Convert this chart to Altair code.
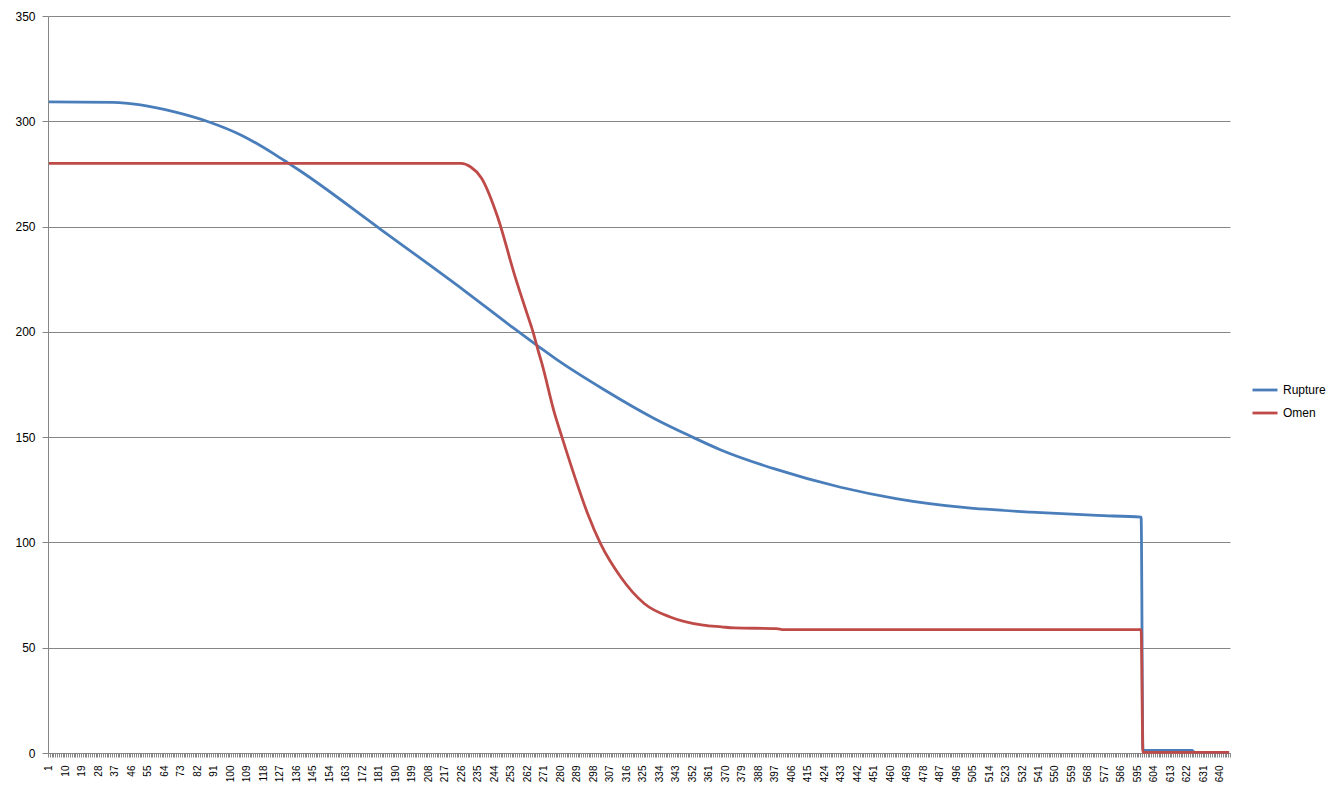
import altair as alt
import pandas as pd

# ---- data ----
series_names = ["Rupture", "Omen"]
series_colors = ["#4A7EBB", "#BE4B48"]

rupture_x = [1, 36, 51, 69, 88, 106, 124, 131, 138, 182, 228, 255, 269, 277, 304, 331,
             351, 368, 397, 433, 464, 500, 537, 573, 597, 598, 625, 626, 645]
rupture_y = [309.2, 309, 307.8, 304.6, 299.8, 293.4, 284.4, 280.5, 276.5, 248.7, 219.4,
             201.5, 192.5, 187.5, 172.5, 159, 150.5, 143.8, 134.9, 126.2, 120.7, 116.6,
             114.4, 112.8, 112, 1.2, 1.2, 0.3, 0.3]

omen_x = [1, 226, 231, 237, 246, 255, 262, 265, 268, 270, 277, 281, 288, 295, 302, 313,
          326, 340, 358, 368, 375, 398, 402, 597, 598, 645]
omen_y = [280, 280, 278.4, 273.1, 254.2, 227.3, 208.4, 200.5, 191, 185, 161, 149.9, 131,
          113.6, 99.4, 83.6, 70.9, 64.6, 60.7, 59.9, 59.4, 59.1, 58.6, 58.6, 0.3, 0.3]

n_categories = 645
x_label_values = list(range(1, n_categories + 1, 9))
y_tick_values = [0, 50, 100, 150, 200, 250, 300, 350]

rows = []
for name, xs, ys in [("Rupture", rupture_x, rupture_y), ("Omen", omen_x, omen_y)]:
    for i, (xv, yv) in enumerate(zip(xs, ys)):
        rows.append({"series": name, "x": xv, "value": yv, "idx": i})
df = pd.DataFrame(rows)

# category boundaries carry the tick marks; labels shown on every 9th category
boundaries = [c - 0.5 for c in range(1, n_categories + 2)]
label_set = ",".join(str(v) for v in x_label_values)
label_expr = f"indexof([{label_set}], datum.value + 0.5) >= 0 ? '' + (datum.value + 0.5) : ''"

W, H = 1182, 737
GRID = "#868686"
FONT = "Liberation Sans"

chart = alt.Chart(df).mark_line(strokeWidth=2.8, interpolate="monotone").encode(
    x=alt.X("x:Q",
            scale=alt.Scale(domain=[0.5, n_categories + 0.5], nice=False, zero=False),
            axis=alt.Axis(values=boundaries, labelExpr=label_expr, labelAngle=-90,
                          labelAlign="right", labelBaseline="middle",
                          labelOffset=0.92, labelOverlap=False, labelBound=False,
                          labelFlush=False, tickSize=4, tickColor=GRID,
                          domainColor=GRID, labelPadding=8, labelFontSize=10,
                          grid=False, title=None)),
    y=alt.Y("value:Q",
            scale=alt.Scale(domain=[0, 350], nice=False, zero=True),
            axis=alt.Axis(values=y_tick_values, grid=True, gridColor=GRID,
                          gridOpacity=1, gridWidth=1, tickSize=6, tickColor=GRID,
                          domainColor=GRID, labelPadding=7, labelFontSize=12,
                          title=None)),
    color=alt.Color("series:N",
                    scale=alt.Scale(domain=series_names, range=series_colors),
                    sort=series_names,
                    legend=alt.Legend(title=None, orient="none", legendX=1203,
                                      legendY=360, symbolType="stroke",
                                      symbolSize=625, symbolStrokeWidth=2.8,
                                      labelFontSize=12, labelOffset=4,
                                      rowPadding=3, padding=0)),
    detail="series:N",
    order="idx:Q",
).properties(
    width=W, height=H,
    autosize=alt.AutoSizeParams(type="none"),
    padding={"left": 40, "top": 8, "right": 100, "bottom": 50},
).configure_view(stroke=None).configure_axis(
    labelFont=FONT, labelColor="#000000", domainWidth=1, tickWidth=1
).configure_legend(labelFont=FONT, labelColor="#000000")

chart.save("out.html", embed_options={"renderer": "svg", "actions": False})
